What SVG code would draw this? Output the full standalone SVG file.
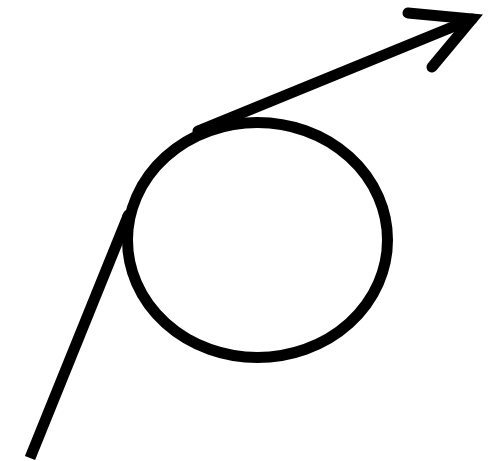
<svg xmlns="http://www.w3.org/2000/svg" width="489" height="461" viewBox="0 0 489 461">
<style>.s{fill:none;stroke:#000;stroke-width:11}</style>
<rect width="489" height="461" fill="#fff"/>
<g id="circle"><ellipse class="s" cx="257.5" cy="240" rx="130" ry="117.5"/></g>
<g id="connectors">
<path class="s" d="M30,458 L128,216"/>
<path class="s" d="M128,216 L128.5,215" stroke-linecap="round"/>
<path class="s" d="M198,131 L472,19" stroke-linecap="round"/>
<polyline class="s" points="408,13 472,19 432,67" stroke-linecap="round" stroke-linejoin="miter"/>
</g>
</svg>
